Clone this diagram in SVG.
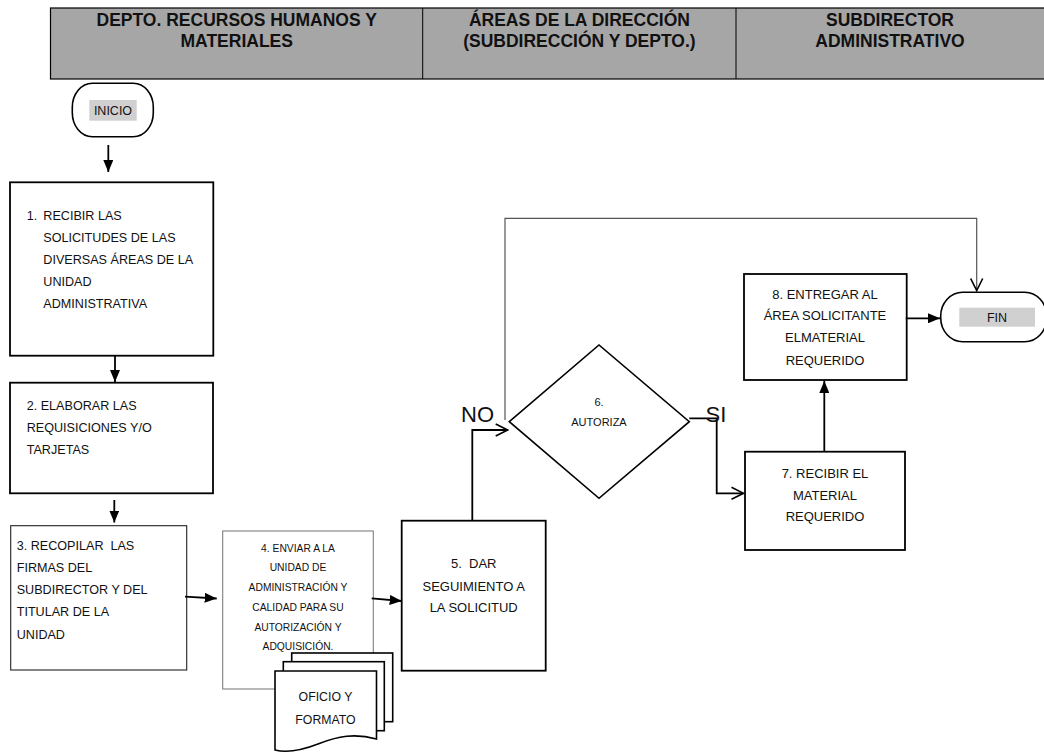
<svg xmlns="http://www.w3.org/2000/svg" width="1044" height="753" viewBox="0 0 1044 753">
<style>
.hdr{font-family:"Liberation Sans",Arial,sans-serif;font-weight:bold;font-size:17.5px;fill:#111;text-anchor:middle}
.t{font-family:"Liberation Sans",Arial,sans-serif;font-size:12.6px;fill:#111;white-space:pre}
.c{text-anchor:middle}
.s{font-size:10.3px}
.big{font-family:"Liberation Sans",Arial,sans-serif;font-size:22px;fill:#111}
.box{fill:#fff;stroke:#000;stroke-width:1.8}
.conn{fill:none;stroke:#000;stroke-width:1.8}
.thin{fill:none;stroke:#555;stroke-width:1.2}
</style>
<defs>
<marker id="fill" viewBox="0 0 12 10" markerWidth="12" markerHeight="10" refX="12" refY="5" orient="auto" markerUnits="userSpaceOnUse">
<path d="M0,0 L12,5 L0,10 Z" fill="#000"/>
</marker>
<marker id="open" viewBox="0 0 14 14" markerWidth="14" markerHeight="14" refX="13" refY="7" orient="auto" markerUnits="userSpaceOnUse">
<path d="M1,1 L13,7 L1,13" fill="none" stroke="#000" stroke-width="1.6"/>
</marker>
</defs>
<rect width="1044" height="753" fill="#fff"/>

<g id="header">
<rect x="50.5" y="8" width="1000" height="71" fill="#a6a6a6" stroke="#000" stroke-width="1.2"/>
<line x1="422.7" y1="8" x2="422.7" y2="79" stroke="#000" stroke-width="1"/>
<line x1="736" y1="8" x2="736" y2="79" stroke="#000" stroke-width="1"/>
<text class="hdr" x="236.7" y="26">DEPTO. RECURSOS HUMANOS Y</text>
<text class="hdr" x="236.7" y="47">MATERIALES</text>
<text class="hdr" x="579.4" y="26">ÁREAS DE LA DIRECCIÓN</text>
<text class="hdr" x="579.4" y="47">(SUBDIRECCIÓN Y DEPTO.)</text>
<text class="hdr" x="890" y="26">SUBDIRECTOR</text>
<text class="hdr" x="890" y="47">ADMINISTRATIVO</text>
</g>

<g id="inicio">
<rect x="72.3" y="83.3" width="81" height="53.4" rx="20" ry="24" fill="#fff" stroke="#000" stroke-width="1.6"/>
<rect x="89.3" y="100" width="47.4" height="20.7" fill="#d0d0d0"/>
<text class="t c" x="113" y="115" style="font-size:12.5px">INICIO</text>
</g>

<g id="n1">
<rect class="box" x="10" y="182.3" width="203.3" height="173.4"/>
<text class="t" x="26.7" y="219.5">1.</text>
<text class="t" x="43.3" y="219.5">RECIBIR LAS</text>
<text class="t" x="43.3" y="241.5">SOLICITUDES DE LAS</text>
<text class="t" x="43.3" y="263.5">DIVERSAS ÁREAS DE LA</text>
<text class="t" x="43.3" y="285.5">UNIDAD</text>
<text class="t" x="43.3" y="307.5">ADMINISTRATIVA</text>
</g>

<g id="n2">
<rect class="box" x="10" y="382.7" width="203" height="110.6"/>
<text class="t" x="26.7" y="409.5">2. ELABORAR LAS</text>
<text class="t" x="26.7" y="432">REQUISICIONES Y/O</text>
<text class="t" x="26.7" y="453.5">TARJETAS</text>
</g>

<g id="n3">
<rect x="10.7" y="525.7" width="176" height="144.3" fill="#fff" stroke="#222" stroke-width="1.1"/>
<text class="t" x="16.7" y="549.5">3. RECOPILAR  LAS</text>
<text class="t" x="16.7" y="571.5">FIRMAS DEL</text>
<text class="t" x="16.7" y="594">SUBDIRECTOR Y DEL</text>
<text class="t" x="16.7" y="616">TITULAR DE LA</text>
<text class="t" x="16.7" y="638.5">UNIDAD</text>
</g>

<g id="n4">
<rect x="222.7" y="531" width="150.6" height="158" fill="#fff" stroke="#7f7f7f" stroke-width="1.1"/>
<text class="t c s" x="298" y="552">4. ENVIAR A LA</text>
<text class="t c s" x="298" y="571">UNIDAD DE</text>
<text class="t c s" x="298" y="590.5">ADMINISTRACIÓN Y</text>
<text class="t c s" x="298" y="610.5">CALIDAD PARA SU</text>
<text class="t c s" x="298" y="630.5">AUTORIZACIÓN Y</text>
<text class="t c s" x="298" y="650">ADQUISICIÓN.</text>
</g>

<g id="docs">
<rect x="291.7" y="653" width="101" height="68.7" fill="#fff" stroke="#000" stroke-width="1.6"/>
<rect x="283.3" y="661.7" width="101" height="69" fill="#fff" stroke="#000" stroke-width="1.6"/>
<path d="M275,671 H376.5 V739 C355,733 338,736 318,744 C300,751 287,753 275,750 Z" fill="#fff" stroke="#000" stroke-width="1.6"/>
<text class="t c" x="325.5" y="701" style="font-size:12.3px">OFICIO Y</text>
<text class="t c" x="325.5" y="723.5" style="font-size:12.3px">FORMATO</text>
</g>

<g id="n5">
<rect class="box" x="401.7" y="520.7" width="144" height="150"/>
<text class="t c" x="473.7" y="568" style="font-size:13px">5.  DAR</text>
<text class="t c" x="473.7" y="590.5" style="font-size:13px">SEGUIMIENTO A</text>
<text class="t c" x="473.7" y="612" style="font-size:13px">LA SOLICITUD</text>
</g>

<g id="n6">
<polygon points="509.3,421.7 599,345 689.3,421.7 599,498.3" fill="#fff" stroke="#000" stroke-width="1.6"/>
<text class="t c" x="599" y="405.7" style="font-size:11px">6.</text>
<text class="t c" x="599" y="425.7" style="font-size:11px">AUTORIZA</text>
</g>

<g id="n7">
<rect class="box" x="745" y="451.7" width="160" height="98.3"/>
<text class="t c" x="825" y="478" style="font-size:13px">7. RECIBIR EL</text>
<text class="t c" x="825" y="499.5" style="font-size:13px">MATERIAL</text>
<text class="t c" x="825" y="521" style="font-size:13px">REQUERIDO</text>
</g>

<g id="n8">
<rect class="box" x="744" y="274" width="162.7" height="106"/>
<text class="t c" x="825" y="298.5" style="font-size:13px">8. ENTREGAR AL</text>
<text class="t c" x="825" y="320" style="font-size:13px">ÁREA SOLICITANTE</text>
<text class="t c" x="825" y="342" style="font-size:13px">ELMATERIAL</text>
<text class="t c" x="825" y="364.5" style="font-size:13px">REQUERIDO</text>
</g>

<g id="fin">
<rect x="940.7" y="292.3" width="106" height="49.4" rx="22" ry="24" fill="#fff" stroke="#000" stroke-width="1.6"/>
<rect x="959.3" y="307.7" width="75.7" height="19" fill="#d0d0d0"/>
<text class="t c" x="997" y="321.5" style="font-size:12.5px">FIN</text>
</g>

<g id="connectors">
<line class="conn" x1="108.3" y1="145" x2="108.3" y2="172" marker-end="url(#fill)"/>
<line class="conn" x1="115" y1="355.7" x2="115" y2="382" marker-end="url(#fill)"/>
<line class="conn" x1="114.3" y1="500" x2="114.3" y2="522.5" marker-end="url(#fill)"/>
<line class="conn" x1="185" y1="596.7" x2="216.7" y2="598.5" marker-end="url(#fill)"/>
<line class="conn" x1="371.7" y1="598.3" x2="401.7" y2="601" marker-end="url(#fill)"/>
<polyline class="conn" points="472.3,520.7 472.3,430 507.7,430" marker-end="url(#open)"/>
<polyline class="thin" points="505,420 505,218.3 976.7,218.3 976.7,290.5" marker-end="url(#open)"/>
<polyline class="conn" points="689.3,418.3 716.7,418.3 716.7,493.3 743.5,493.3" marker-end="url(#open)"/>
<line class="conn" x1="824.3" y1="451.7" x2="824.3" y2="381" marker-end="url(#fill)"/>
<line class="conn" x1="905.7" y1="318.3" x2="940" y2="318.3" marker-end="url(#fill)"/>
<text class="big" x="461" y="421.7">NO</text>
<text class="big" x="705.5" y="421.7">SI</text>
</g>
</svg>
